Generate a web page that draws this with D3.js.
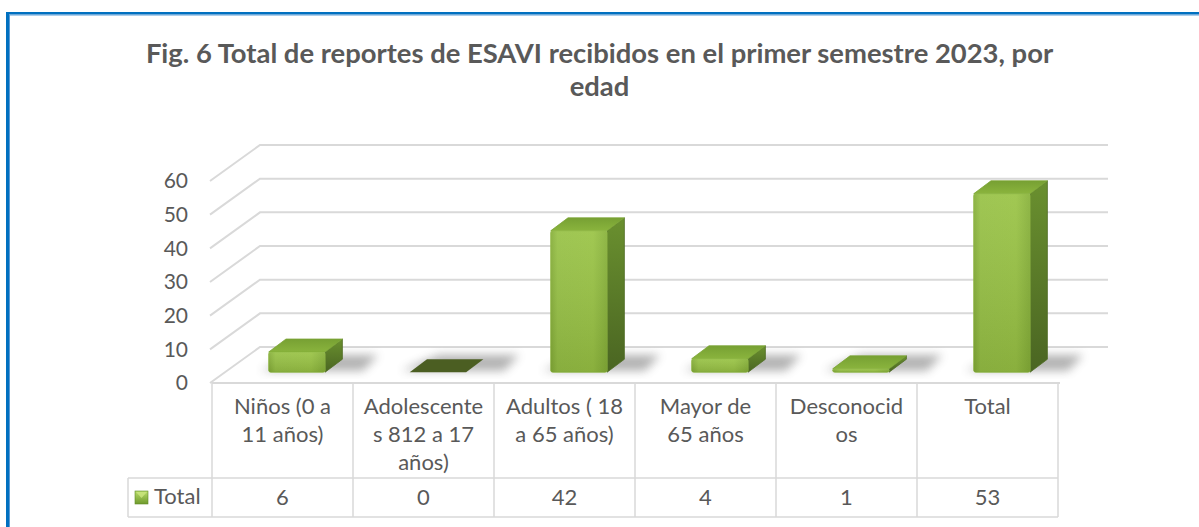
<!DOCTYPE html>
<html>
<head>
<meta charset="utf-8">
<script src="https://cdn.jsdelivr.net/npm/d3@7"></script>
<style>
  body { margin: 0; background: #fff; }
  svg { display: block; font-family: Lato, "Open Sans", sans-serif; }
</style>
</head>
<body>
<div id="chart"></div>
<script>
// Chart data
var categories = ["Niños (0 a 11 años)", "Adolescentes 812 a 17 años)", "Adultos ( 18 a 65 años)", "Mayor de 65 años", "Desconocidos", "Total"];
var categoryLines = [["Niños (0 a", "11 años)"], ["Adolescente", "s 812 a 17", "años)"], ["Adultos ( 18", "a 65 años)"], ["Mayor de", "65 años"], ["Desconocid", "os"], ["Total"]];
var totals = [6, 0, 42, 4, 1, 53];
var yTicks = [0, 10, 20, 30, 40, 50, 60];
var seriesName = "Total";
var titleLines = ["Fig. 6 Total de reportes de ESAVI recibidos en el primer semestre 2023, por", "edad"];

// SVG area
var svgWidth = 1199;
var svgHeight = 527;
var textColor = "#595959";
var gridColor = "#d9d9d9";

// 3D depth of the floor / back wall
var DX = 48, DY = 36;
var tFront = 0.3, tBack = 0.66;

var svg = d3.select("#chart")
  .append("svg")
  .attr("width", svgWidth)
  .attr("height", svgHeight);

var defs = svg.append("defs");

function addGrad(id, x2, y2, stops) {
  var g = defs.append("linearGradient").attr("id", id)
    .attr("x1", 0).attr("y1", 0).attr("x2", x2).attr("y2", y2);
  stops.forEach(function (s) {
    g.append("stop").attr("offset", s[0]).attr("stop-color", s[1]);
  });
}
addGrad("frontGrad", 1, 0, [[0, "#84ad37"], [0.12, "#97c145"], [0.75, "#99c344"], [1, "#86b038"]]);
addGrad("frontShade", 0, 1, [[0, "rgba(255,255,255,0.08)"], [1, "rgba(0,0,0,0.10)"]]);
addGrad("sideGrad", 0, 1, [[0, "#6a902f"], [1, "#4a6522"]]);
addGrad("topGrad", 0, 1, [[0, "#77a033"], [1, "#8ab43d"]]);
addGrad("keyGrad", 0, 1, [[0, "#b8dc6a"], [1, "#6f9a2c"]]);

defs.append("filter").attr("id", "blur")
  .attr("x", "-50%").attr("y", "-50%").attr("width", "200%").attr("height", "200%")
  .append("feGaussianBlur").attr("stdDeviation", 5);

// Frame (blue border on top and left)
svg.append("rect").attr("x", 6).attr("y", 12).attr("width", svgWidth - 6).attr("height", 2.5).attr("fill", "#0070c0");
svg.append("rect").attr("x", 9).attr("y", 14.5).attr("width", svgWidth - 9).attr("height", 1).attr("fill", "#5b9bd5");
svg.append("rect").attr("x", 6).attr("y", 12).attr("width", 3).attr("height", svgHeight - 12).attr("fill", "#0070c0");
svg.append("rect").attr("x", 9).attr("y", 14.5).attr("width", 1).attr("height", svgHeight - 14).attr("fill", "#5b9bd5");

// Title
var title = svg.append("text")
  .attr("text-anchor", "middle")
  .attr("fill", textColor)
  .attr("font-weight", "bold")
  .attr("font-size", 26);
title.selectAll("tspan")
  .data(titleLines)
  .enter()
  .append("tspan")
  .attr("x", svgWidth / 2)
  .attr("y", (d, i) => 63 + i * 33)
  .text(d => d);
// fit first line to the reference width
var firstLen = title.select("tspan").node().getComputedTextLength();
title.attr("font-size", 26 * 908 / firstLen);

// Scales
var xScale = d3.scaleBand()
  .domain(categories)
  .range([212, 1058])
  .padding(0);

var yScale = d3.scaleLinear()
  .domain([0, 60])
  .range([383, 181]);

function P(x, v, t) {
  return [x + t * DX, yScale(v) - t * DY];
}

// Gridlines: diagonal on the left side + back wall line
var grid = svg.append("g").attr("stroke", gridColor).attr("stroke-width", 2).attr("fill", "none");
var x0 = xScale.range()[0], x1 = xScale.range()[1] + 2;
yTicks.forEach(function (v) {
  grid.append("polyline")
    .attr("points", [P(x0 - 2, v, 0), P(x0, v, 1), P(x1, v, 1)].map(p => p.join(",")).join(" "));
});

// Y axis labels
var leftAxis = d3.axisLeft(yScale).tickValues(yTicks).tickSize(0).tickPadding(22);
var yAxis = svg.append("g")
  .attr("transform", "translate(210,0)")
  .call(leftAxis);
yAxis.select(".domain").remove();
yAxis.selectAll("text")
  .attr("fill", textColor)
  .attr("font-size", 21)
  .attr("font-family", "Lato, sans-serif");

// Bars
var barWidth = xScale.bandwidth() * 0.4;
var bars = svg.append("g");

categories.forEach(function (c, i) {
  var v = totals[i];
  var bx0 = xScale(c) + (xScale.bandwidth() - barWidth) / 2;
  var bx1 = bx0 + barWidth;
  var g = bars.append("g");

  // floor shadow
  g.append("polygon")
    .attr("points", [P(bx0 - 10, 0, tFront + 0.04), P(bx1 + 36, 0, tFront + 0.04), P(bx1 + 30, 0, tBack + 0.12), P(bx0 + 6, 0, tBack + 0.12)].map(p => p.join(",")).join(" "))
    .attr("fill", "#4a4a4a")
    .attr("opacity", 0.42)
    .attr("filter", "url(#blur)");

  if (v === 0) {
    g.append("polygon")
      .attr("points", [P(bx0, 0, tFront), P(bx1, 0, tFront), P(bx1, 0, tBack), P(bx0, 0, tBack)].map(p => p.join(",")).join(" "))
      .attr("fill", "#4b5e22");
    return;
  }

  // side face
  g.append("polygon")
    .attr("points", [P(bx1, 0, tFront), P(bx1, v, tFront), P(bx1, v, tBack), P(bx1, 0, tBack)].map(p => p.join(",")).join(" "))
    .attr("fill", "url(#sideGrad)")
    .attr("stroke", "#4f6c24").attr("stroke-width", 0.8).attr("stroke-linejoin", "round");

  // top face
  g.append("polygon")
    .attr("points", [P(bx0, v, tFront), P(bx1, v, tFront), P(bx1, v, tBack), P(bx0, v, tBack)].map(p => p.join(",")).join(" "))
    .attr("fill", "url(#topGrad)")
    .attr("stroke", "#7aa334").attr("stroke-width", 0.8).attr("stroke-linejoin", "round");

  // front face
  var pTop = P(bx0, v, tFront), pBot = P(bx0, 0, tFront);
  g.append("rect")
    .attr("x", pTop[0]).attr("y", pTop[1])
    .attr("width", barWidth).attr("height", pBot[1] - pTop[1])
    .attr("rx", 2)
    .attr("fill", "url(#frontGrad)")
    .attr("stroke", "#8cb63c").attr("stroke-width", 0.8);
  g.append("rect")
    .attr("x", pTop[0]).attr("y", pTop[1])
    .attr("width", barWidth).attr("height", pBot[1] - pTop[1])
    .attr("rx", 2)
    .attr("fill", "url(#frontShade)");
});

// Data table under the chart
var table = svg.append("g").attr("stroke", gridColor).attr("stroke-width", 1.5).attr("fill", "none");
var tTop = 383, tMid = 478, tBot = 517, legendX = 128;
table.append("line").attr("x1", x0).attr("x2", x1).attr("y1", tTop).attr("y2", tTop).attr("stroke-width", 2);
table.append("line").attr("x1", legendX).attr("x2", xScale.range()[1]).attr("y1", tMid).attr("y2", tMid);
table.append("line").attr("x1", legendX).attr("x2", xScale.range()[1]).attr("y1", tBot).attr("y2", tBot);
table.append("line").attr("x1", legendX).attr("x2", legendX).attr("y1", tMid).attr("y2", tBot);
categories.concat([null]).forEach(function (c) {
  var x = c === null ? xScale.range()[1] : xScale(c);
  table.append("line").attr("x1", x).attr("x2", x).attr("y1", tTop).attr("y2", tBot);
});

// Category labels
var labels = svg.append("g").attr("fill", textColor).attr("font-size", 22).attr("text-anchor", "middle");
categories.forEach(function (c, i) {
  var t = labels.append("text");
  categoryLines[i].forEach(function (line, j) {
    t.append("tspan")
      .attr("x", xScale(c) + xScale.bandwidth() / 2)
      .attr("y", 414 + j * 28)
      .text(line);
  });
  labels.append("text")
    .attr("x", xScale(c) + xScale.bandwidth() / 2)
    .attr("y", 505)
    .text(totals[i]);
});

// Legend key in the table
var key = svg.append("g");
key.append("rect").attr("x", 135).attr("y", 491).attr("width", 13).attr("height", 13).attr("fill", "url(#keyGrad)").attr("stroke", "#5f8a26").attr("stroke-width", 0.6);
key.append("polygon").attr("points", "136,492 147,492 141.5,498").attr("fill", "#cce67f").attr("opacity", 0.8);
key.append("text")
  .attr("x", 154).attr("y", 504)
  .attr("fill", textColor).attr("font-size", 22)
  .text(seriesName);
</script>
</body>
</html>
